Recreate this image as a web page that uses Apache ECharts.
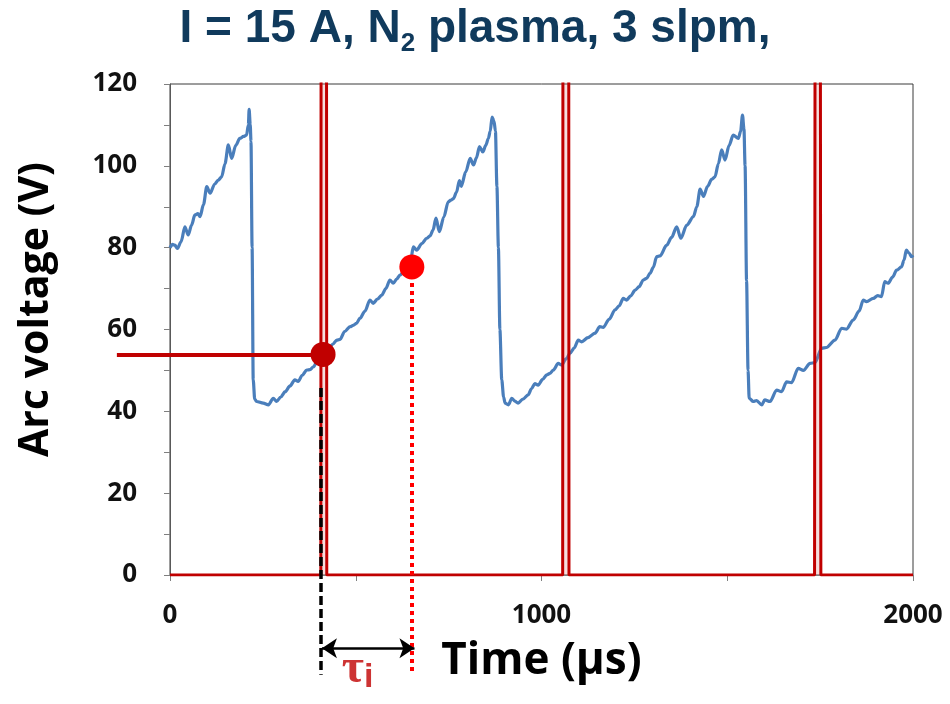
<!DOCTYPE html>
<html><head><meta charset="utf-8">
<script src="https://cdn.jsdelivr.net/npm/echarts@6/dist/echarts.min.js"></script>
<style>html,body{margin:0;padding:0;background:#fff}#c{width:950px;height:704px}</style>
</head><body><div id="c"></div>
<script>
// ---- Data ----
const titleText = '{a|I = 15 A, N}{b|2}{a| plasma, 3 slpm,}';
const xAxisName = 'Time (µs)';
const yAxisName = 'Arc voltage (V)';
const xLabelValues = [0, 1000, 2000];

// Arc voltage trace [time µs, voltage V]
const arcVoltage = [
  [0,80],[7,80.8],[13,80.6],[20,79.8],[30,81.5],[40,85.1],[49,83.1],[58,85.5],[67,88],[75,88.3],[81,87.6],
  [90,90.5],[99,94.9],[108,93.3],[120,95.5],[130,96.5],[139,97.3],[148,100.5],[157,105.1],[166,101.8],
  [177,105],[188,106.7],[198,107.2],[206,107.5],[211,110],[213,113.8],[216,110],[218,106],[221,80],
  [224,47.7],[228,43],[233,42.4],[251,42],[265,41.6],[278,43.2],[287,42.4],[298,43.5],[310,44.8],
  [323,46.2],[336,47.7],[345,47.3],[356,48.8],[368,50.1],[377,50.2],[386,50.9],[398,52.5],[406,53.2],
  [412,53.9],[420,55.2],[430,55.7],[438,56.4],[449,57.4],[458,57.6],[470,59.5],[485,60.7],[493,61],
  [502,61.5],[511,62.7],[525,64.5],[538,67.2],[547,66.4],[558,67.4],[570,68.4],[581,70],[592,72.1],
  [601,71.3],[610,72.3],[619,73.3],[628,74],[637,75.3],[648,77],[655,80.2],[664,79.4],[678,81],
  [691,82.3],[700,82.9],[708,84.3],[716,87.2],[725,83.9],[737,87.5],[749,91.2],[756,91.6],[763,92],
  [771,93.5],[779,96.4],[784,95],[796,98.5],[808,101.8],[817,100.2],[825,102],[833,104.7],[842,103.4],
  [850,105],[857,106.7],[862,108.5],[867,111.9],[872,111],[876,108.5],[880,95],[884,80],[888,60],
  [893,47.7],[898,43.5],[902,42],[911,41.6],[920,43.2],[928,42.5],[937,42],[950,43],[964,44],[973,45.5],
  [982,46.8],[991,46.4],[1003,47.8],[1014,48.9],[1023,49.3],[1032,50.1],[1045,51.7],[1054,51.3],
  [1066,52.8],[1077,54.2],[1088,55.5],[1099,57.4],[1108,57],[1125,58],[1144,59.1],[1157,60.7],
  [1166,60.5],[1182,62.5],[1198,64.8],[1209,65.8],[1220,67.6],[1229,67.2],[1240,68.2],[1252,69.6],
  [1263,70.5],[1274,72.1],[1283,72.5],[1292,73.7],[1301,75.2],[1310,77.8],[1319,78],[1337,80.6],
  [1350,82.5],[1364,85.1],[1375,82.3],[1391,85.5],[1409,87.6],[1418,90],[1427,94.3],[1436,92.5],
  [1447,95],[1458,96.7],[1467,97.3],[1476,100.5],[1485,103.9],[1494,101.4],[1505,105],[1516,107.5],
  [1530,106.7],[1536,108.5],[1541,112.4],[1545,109],[1548,100],[1552,72],[1556,50],[1559,43.2],
  [1570,42.4],[1579,42.6],[1593,41.6],[1601,42.8],[1615,42.4],[1633,45.2],[1646,44.8],[1660,47.2],
  [1673,47],[1691,50.5],[1705,50],[1723,51.7],[1736,51.9],[1754,55.4],[1767,55.6],[1790,57.4],
  [1808,60.3],[1821,60.1],[1839,62.3],[1855,64.5],[1866,67.2],[1875,66.8],[1893,67.6],[1905,68.3],
  [1915,68],[1924,71.7],[1933,71.3],[1945,72.8],[1956,74.5],[1969,75.3],[1976,77],[1982,79.4],
  [1990,78.6],[1996,77.8],[2000,78.2]
];

// Trigger pulse signal (goes off-scale during each pulse)
const pulseSignal = [
  [0,0],[406,0],[407,200],[421,200],[422,0],
  [1057,0],[1058,200],[1073,200],[1074,0],
  [1735,0],[1737,200],[1750,200],[1752,0],[2000,0]
];

// Annotations
const triggerPoint = [412, 53.9];          // dark red dot
const ignitionPoint = [651, 75.3];         // bright red dot
const triggerLevelLine = [[-143, 53.9], [412, 53.9]];
const triggerTimeLine = [[406, 45.7], [406, -24.4]];
const ignitionTimeLine = [[651, 75.3], [651, -24.4]];
const tauArrow = [[409, -17.9], [658, -17.9]];
const tauLabelPos = [505, -23];

// ---- Chart ----
const FONT = 'Open Sans';
const chart = echarts.init(document.getElementById('c'), null, {renderer: 'canvas'});
const axisTextStyle = {fontFamily: FONT, fontWeight: 'bold', fontSize: 26, color: '#111'};

const option = {
  animation: false,
  backgroundColor: '#fff',
  title: {
    text: titleText,
    left: 'center', top: 1, padding: 0,
    textStyle: {
      rich: {
        a: {fontFamily: 'Liberation Sans', fontWeight: 'bold', fontSize: 46, lineHeight: 56, color: '#103a5c'},
        b: {fontFamily: 'Liberation Sans', fontWeight: 'bold', fontSize: 26, lineHeight: 16, verticalAlign: 'bottom', color: '#103a5c'}
      }
    }
  },
  grid: {left: 170, right: 37, top: 84, bottom: 129, show: true, borderColor: '#3a3a3a', borderWidth: 1},
  xAxis: {
    type: 'value', min: 0, max: 2000, interval: 500,
    axisLine: {show: true, lineStyle: {color: '#7f7f7f', width: 1}},
    axisTick: {show: true, length: 6, lineStyle: {color: '#7f7f7f'}},
    splitLine: {show: false},
    axisLabel: Object.assign({margin: 28, formatter: v => xLabelValues.includes(v) ? String(v) : ''}, axisTextStyle),
    name: xAxisName, nameLocation: 'middle', nameGap: 64,
    nameTextStyle: {fontFamily: FONT, fontWeight: 'bold', fontSize: 44, color: '#000'}
  },
  yAxis: {
    type: 'value', min: 0, max: 120, interval: 20,
    axisLine: {show: true, lineStyle: {color: '#595959', width: 1}},
    axisTick: {show: true, length: 6, lineStyle: {color: '#7f7f7f'}},
    minorTick: {show: true, splitNumber: 2, length: 6, lineStyle: {color: '#7f7f7f'}},
    splitLine: {show: false},
    axisLabel: Object.assign({margin: 33}, axisTextStyle),
    name: yAxisName, nameLocation: 'middle', nameGap: 113,
    nameTextStyle: {fontFamily: FONT, fontWeight: 'bold', fontSize: 41, color: '#000', padding: [0, 0, 0, 40]}
  },
  series: [
    {
      name: 'Arc voltage', type: 'line', data: arcVoltage, showSymbol: false, z: 2,
      smooth: 0.3, smoothMonotone: 'x',
      lineStyle: {color: '#4a7ebb', width: 3.2}
    },
    {
      name: 'Trigger', type: 'line', data: pulseSignal, showSymbol: false, z: 3,
      lineStyle: {color: '#c00000', width: 3},
      areaStyle: {color: 'rgba(220,120,120,0.35)', origin: 0}
    },
    {
      type: 'lines', coordinateSystem: 'cartesian2d', clip: false, z: 4, silent: true,
      symbol: 'none',
      data: [{coords: triggerLevelLine}],
      lineStyle: {color: '#c00000', width: 4, opacity: 1}
    },
    {
      type: 'lines', coordinateSystem: 'cartesian2d', clip: false, z: 5, silent: true,
      symbol: 'none',
      data: [{coords: triggerTimeLine}],
      lineStyle: {color: '#000', width: 3.5, type: [9, 4], opacity: 1}
    },
    {
      type: 'lines', coordinateSystem: 'cartesian2d', clip: false, z: 5, silent: true,
      symbol: 'none',
      data: [{coords: ignitionTimeLine}],
      lineStyle: {color: '#ff0000', width: 4, type: [4, 4], opacity: 1}
    },
    {
      type: 'lines', coordinateSystem: 'cartesian2d', clip: false, z: 6, silent: true,
      symbol: ['arrow', 'arrow'], symbolSize: 15,
      data: [{coords: tauArrow}],
      itemStyle: {color: '#000'},
      lineStyle: {color: '#000', width: 2.5, opacity: 1}
    },
    {
      type: 'scatter', z: 7, clip: false,
      data: [
        {value: triggerPoint, itemStyle: {color: '#c00000', opacity: 1}},
        {value: ignitionPoint, itemStyle: {color: '#ff0000', opacity: 1}}
      ],
      symbolSize: 25
    },
    {
      type: 'scatter', z: 7, clip: false, symbolSize: 0,
      data: [tauLabelPos],
      label: {
        show: true, position: 'inside',
        formatter: '{t|τ}{s|i}',
        rich: {
          t: {fontFamily: 'Liberation Serif', fontWeight: 'bold', fontSize: 48, lineHeight: 52, color: '#c00000'},
          s: {fontFamily: 'Liberation Sans', fontWeight: 'bold', fontSize: 34, lineHeight: 6, verticalAlign: 'bottom', color: '#c00000'}
        }
      }
    }
  ]
};
chart.setOption(option);
</script>
</body></html>
